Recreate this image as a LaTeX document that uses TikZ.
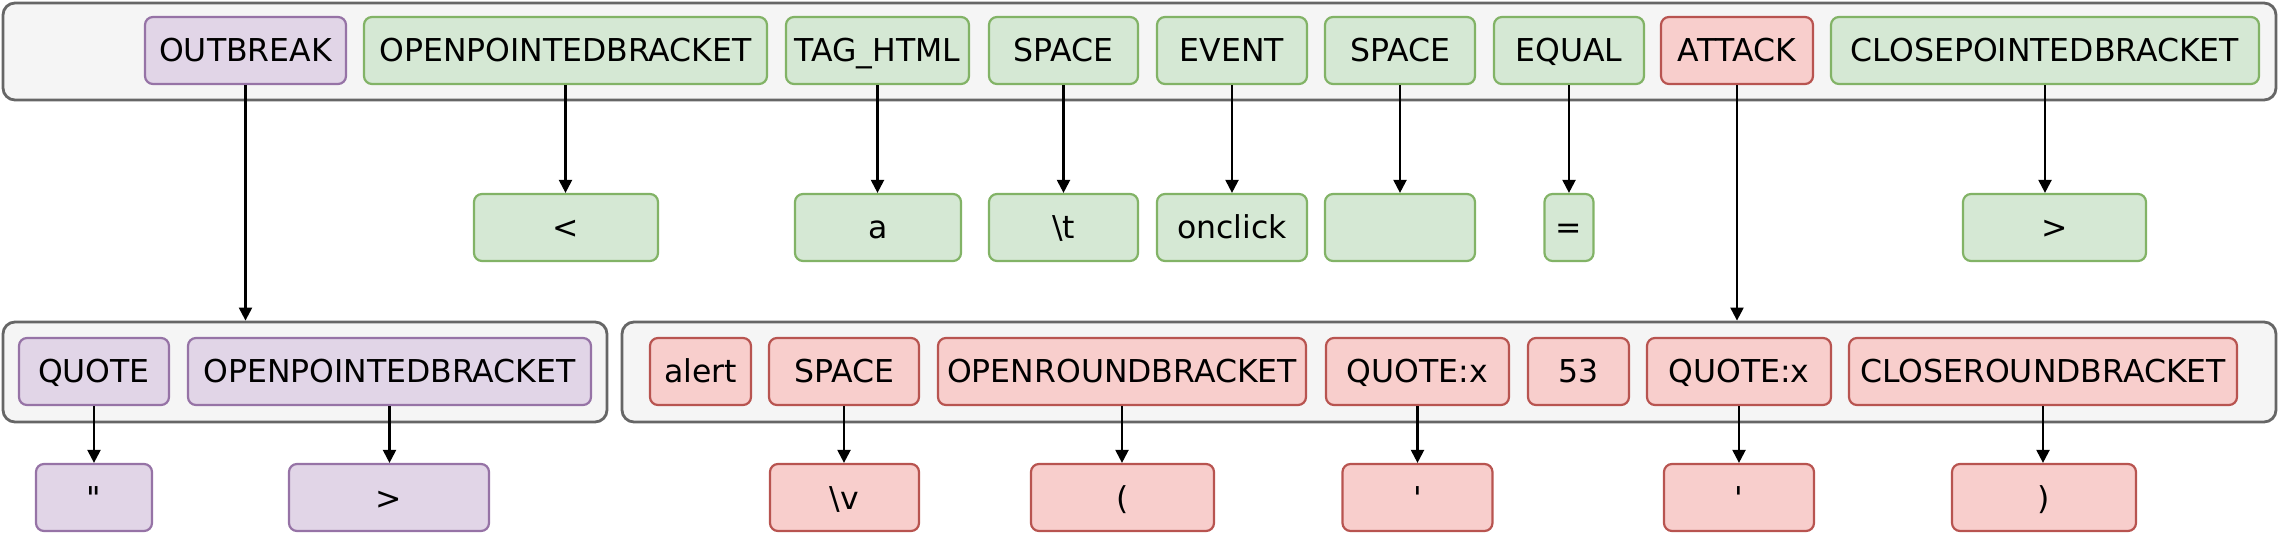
\documentclass[tikz,border=0pt]{standalone}
\usepackage{fontspec}
\setmainfont{DejaVu Sans}
\usetikzlibrary{arrows.meta}
\definecolor{gfill}{HTML}{D5E8D4}\definecolor{gline}{HTML}{82B366}
\definecolor{pfill}{HTML}{E1D5E7}\definecolor{pline}{HTML}{9673A6}
\definecolor{rfill}{HTML}{F8CECC}\definecolor{rline}{HTML}{B85450}
\definecolor{cfill}{HTML}{F5F5F5}\definecolor{cline}{HTML}{666666}
\tikzset{
  tok/.style={draw, line width=2.2pt, rounded corners=8pt, inner sep=0pt,
    minimum height=67pt, text height=23pt, text depth=0pt,
    font=\fontsize{31.5}{36}\selectfont, text=black},
  gbox/.style={tok, fill=gfill, draw=gline},
  pbox/.style={tok, fill=pfill, draw=pline},
  rbox/.style={tok, fill=rfill, draw=rline},
  cont/.style={draw=cline, fill=cfill, line width=2.8pt, rounded corners=12pt, inner sep=0pt},
  arr/.style={line width=2.2pt, -{Triangle[length=13pt,width=13pt]}}
}
\begin{document}
\begin{tikzpicture}[x=1pt,y=-1pt]
\useasboundingbox (0,0) rectangle (2279,534);
% containers
\node[cont, minimum width=2273pt, minimum height=97pt] (tc) at (1139.5,51.5) {};
\node[cont, minimum width=604pt, minimum height=100pt] (lc) at (305,372) {};
\node[cont, minimum width=1654pt, minimum height=100pt] (rc) at (1449,372) {};
% top row
\node[pbox, minimum width=201pt] (outbreak) at (245.5,50.5) {OUTBREAK};
\node[gbox, minimum width=403pt] (opb) at (565.5,50.5) {OPENPOINTEDBRACKET};
\node[gbox, minimum width=183pt] (tag) at (877.5,50.5) {TAG\_HTML};
\node[gbox, minimum width=149pt] (sp1) at (1063.5,50.5) {SPACE};
\node[gbox, minimum width=150pt] (event) at (1232,50.5) {EVENT};
\node[gbox, minimum width=150pt] (sp2) at (1400,50.5) {SPACE};
\node[gbox, minimum width=150pt] (equal) at (1569,50.5) {EQUAL};
\node[rbox, minimum width=152pt] (attack) at (1737,50.5) {ATTACK};
\node[gbox, minimum width=428pt] (cpb) at (2045,50.5) {CLOSEPOINTEDBRACKET};
% middle row
\node[gbox, minimum width=184pt] (lt) at (566,227.5) {<};
\node[gbox, minimum width=166pt] (va) at (878,227.5) {a};
\node[gbox, minimum width=149pt] (vt) at (1063.5,227.5) {\textbackslash t};
\node[gbox, minimum width=150pt] (vonclick) at (1232,227.5) {onclick};
\node[gbox, minimum width=150pt] (vblank) at (1400,227.5) {};
\node[gbox, minimum width=49pt] (veq) at (1569,227.5) {=};
\node[gbox, minimum width=183pt] (vgt) at (2054.5,227.5) {>};
% bottom-left container tokens
\node[pbox, minimum width=150pt] (quote) at (94,371.5) {QUOTE};
\node[pbox, minimum width=403pt] (opb2) at (389.5,371.5) {OPENPOINTEDBRACKET};
% bottom-right container tokens
\node[rbox, minimum width=101pt] (alert) at (700.5,371.5) {alert};
\node[rbox, minimum width=150pt] (sp3) at (844,371.5) {SPACE};
\node[rbox, minimum width=368pt] (orb) at (1122,371.5) {OPENROUNDBRACKET};
\node[rbox, minimum width=183pt] (qx1) at (1417.5,371.5) {QUOTE:x};
\node[rbox, minimum width=101pt] (n53) at (1578.5,371.5) {53};
\node[rbox, minimum width=184pt] (qx2) at (1739,371.5) {QUOTE:x};
\node[rbox, minimum width=388pt] (crb) at (2043,371.5) {CLOSEROUNDBRACKET};
% bottom row
\node[pbox, minimum width=116pt] (vq) at (94,497.5) {\textquotedbl};
\node[pbox, minimum width=200pt] (vgt2) at (389,497.5) {>};
\node[rbox, minimum width=149pt] (vv) at (844.5,497.5) {\textbackslash v};
\node[rbox, minimum width=183pt] (vlp) at (1122.5,497.5) {(};
\node[rbox, minimum width=150pt] (vs1) at (1417.5,497.5) {\textquotesingle};
\node[rbox, minimum width=150pt] (vs2) at (1739,497.5) {\textquotesingle};
\node[rbox, minimum width=184pt] (vrp) at (2044,497.5) {)};
% connectors
\draw[arr] (outbreak.south) -- (outbreak.south |- lc.north);
\draw[arr] (attack.south) -- (attack.south |- rc.north);
\foreach \a/\b in {opb/lt, tag/va, sp1/vt, event/vonclick, sp2/vblank, equal/veq, cpb/vgt,
  quote/vq, opb2/vgt2, sp3/vv, orb/vlp, qx1/vs1, qx2/vs2, crb/vrp}
  \draw[arr] (\a.south) -- (\a.south |- \b.north);
\end{tikzpicture}
\end{document}
